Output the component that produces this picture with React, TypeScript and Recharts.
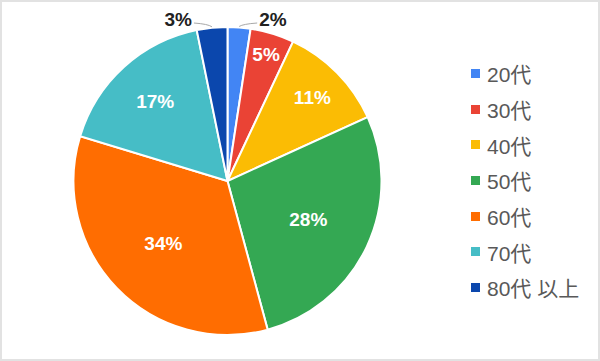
import { Cell, Legend, Pie, PieChart } from 'recharts';

const AGE_GROUPS = ['20代', '30代', '40代', '50代', '60代', '70代', '80代 以上'];
const SHARES = [2.4, 4.6, 11.2, 27.6, 33.9, 17.1, 3.2];
const COLORS = ['#4285f4', '#ea4335', '#fbbc04', '#34a853', '#ff6d01', '#46bdc6', '#0b47ad'];

const FONT = 'Arial, "Liberation Sans", "Noto Sans CJK JP", sans-serif';
const RAD = Math.PI / 180;

const data = AGE_GROUPS.map((name, i) => ({ name, value: SHARES[i], color: COLORS[i] }));

function renderLabel(props: any) {
    const { cx, cy, midAngle, outerRadius, percent, index } = props;
    const text = `${Math.round(percent * 100)}%`;
    const cos = Math.cos(-midAngle * RAD);
    const sin = Math.sin(-midAngle * RAD);

    if (percent < 0.04) {
        // small slices: label outside, with a little leader line
        const side = cos >= 0 ? 1 : -1;
        const ex = cx + (outerRadius + 1) * cos;
        const ey = cy + (outerRadius + 1) * sin;
        const ly = cy - outerRadius - 3;
        const lx = ex + side * 18;
        return (
            <g key={`lbl-${index}`}>
                <path
                    d={`M${ex},${ey} Q${ex + side * 4},${ly} ${lx},${ly - 1}`}
                    stroke="#a8a8a8"
                    strokeWidth={1}
                    fill="none"
                />
                <text
                    x={lx + side * 2}
                    y={ly - 5}
                    textAnchor={side > 0 ? 'start' : 'end'}
                    dominantBaseline="central"
                    fill="#212121"
                    fontSize={19}
                    fontWeight="bold"
                    fontFamily={FONT}
                >
                    {text}
                </text>
            </g>
        );
    }

    const f = Math.max(0.58, 0.92 - 1.3 * percent);
    const r = outerRadius * f;
    return (
        <text
            key={`lbl-${index}`}
            x={cx + r * cos}
            y={cy + r * sin}
            textAnchor="middle"
            dominantBaseline="central"
            fill="#ffffff"
            fontSize={19}
            fontWeight="bold"
            fontFamily={FONT}
        >
            {text}
        </text>
    );
}

function LegendContent() {
    return (
        <div style={{ fontFamily: FONT }}>
            {data.map((item) => (
                <div
                    key={item.name}
                    style={{ height: 35.7, display: 'flex', alignItems: 'center' }}
                >
                    <span
                        style={{
                            width: 9,
                            height: 9,
                            backgroundColor: item.color,
                            display: 'inline-block',
                            marginRight: 7,
                        }}
                    />
                    <span style={{ fontSize: 21, color: '#595959', whiteSpace: 'nowrap' }}>{item.name}</span>
                </div>
            ))}
        </div>
    );
}

export default function App() {
    return (
        <div
            style={{
                width: 600,
                height: 361,
                boxSizing: 'border-box',
                border: '2px solid #e2e2e2',
                background: '#fff',
                position: 'relative',
            }}
        >
            <style>{'body{margin:0}'}</style>
            <div style={{ position: 'absolute', left: -2, top: -2 }}>
                <PieChart width={600} height={361} margin={{ top: 0, right: 0, bottom: 0, left: 0 }}>
                    <Pie
                        data={data}
                        dataKey="value"
                        nameKey="name"
                        cx={227.5}
                        cy={181}
                        outerRadius={154}
                        startAngle={90}
                        endAngle={-270}
                        stroke="#ffffff"
                        strokeWidth={2}
                        label={renderLabel}
                        labelLine={false}
                        isAnimationActive={false}
                    >
                        {data.map((entry) => (
                            <Cell key={entry.name} fill={entry.color} />
                        ))}
                    </Pie>
                    <Legend
                        content={<LegendContent />}
                        wrapperStyle={{ position: 'absolute', left: 471, top: 55.5, width: 129 }}
                    />
                </PieChart>
            </div>
        </div>
    );
}
